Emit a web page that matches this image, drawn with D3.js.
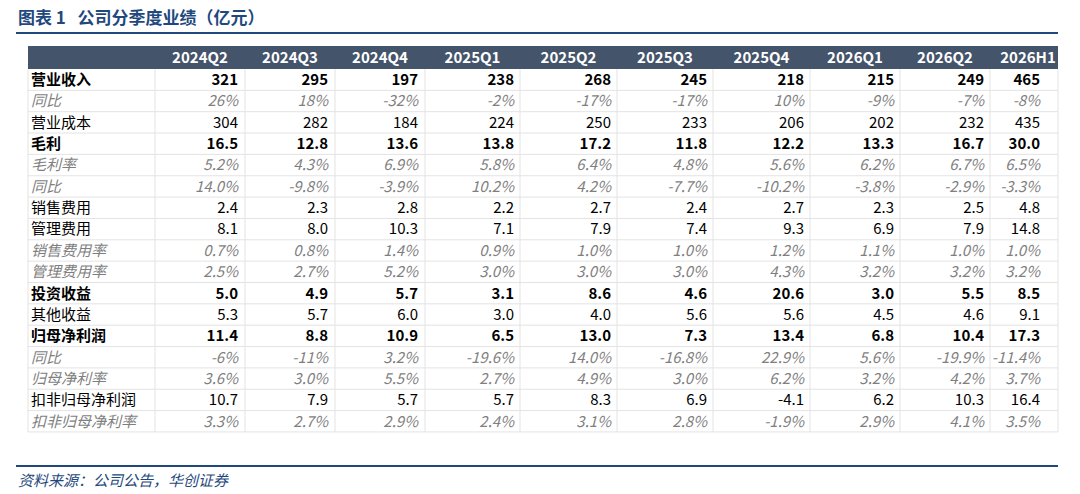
<!DOCTYPE html><html><head><meta charset="utf-8">
<script src="https://cdn.jsdelivr.net/npm/d3@7"></script>
<style>body{margin:0;background:#fff;font-family:"Noto Sans CJK SC","Noto Sans",sans-serif}</style></head><body>
<svg id="c" width="1080" height="494"></svg>
<script>
const periods=["2024Q2","2024Q3","2024Q4","2025Q1","2025Q2","2025Q3","2025Q4","2026Q1","2026Q2","2026H1"];
const rowLabels=["营业收入","同比","营业成本","毛利","毛利率","同比","销售费用","管理费用","销售费用率","管理费用率","投资收益","其他收益","归母净利润","同比","归母净利率","扣非归母净利润","扣非归母净利率"];
const rowStyles=["b","i","n","b","i","i","n","n","i","i","b","n","b","i","i","n","i"];
const revenue=["321","295","197","238","268","245","218","215","249","465"];
const revenueYoY=["26%","18%","-32%","-2%","-17%","-17%","10%","-9%","-7%","-8%"];
const cost=["304","282","184","224","250","233","206","202","232","435"];
const gross=["16.5","12.8","13.6","13.8","17.2","11.8","12.2","13.3","16.7","30.0"];
const grossMargin=["5.2%","4.3%","6.9%","5.8%","6.4%","4.8%","5.6%","6.2%","6.7%","6.5%"];
const grossYoY=["14.0%","-9.8%","-3.9%","10.2%","4.2%","-7.7%","-10.2%","-3.8%","-2.9%","-3.3%"];
const sellExp=["2.4","2.3","2.8","2.2","2.7","2.4","2.7","2.3","2.5","4.8"];
const mgmtExp=["8.1","8.0","10.3","7.1","7.9","7.4","9.3","6.9","7.9","14.8"];
const sellRate=["0.7%","0.8%","1.4%","0.9%","1.0%","1.0%","1.2%","1.1%","1.0%","1.0%"];
const mgmtRate=["2.5%","2.7%","5.2%","3.0%","3.0%","3.0%","4.3%","3.2%","3.2%","3.2%"];
const invIncome=["5.0","4.9","5.7","3.1","8.6","4.6","20.6","3.0","5.5","8.5"];
const otherIncome=["5.3","5.7","6.0","3.0","4.0","5.6","5.6","4.5","4.6","9.1"];
const netProfit=["11.4","8.8","10.9","6.5","13.0","7.3","13.4","6.8","10.4","17.3"];
const netYoY=["-6%","-11%","3.2%","-19.6%","14.0%","-16.8%","22.9%","5.6%","-19.9%","-11.4%"];
const netMargin=["3.6%","3.0%","5.5%","2.7%","4.9%","3.0%","6.2%","3.2%","4.2%","3.7%"];
const deductNet=["10.7","7.9","5.7","5.7","8.3","6.9","-4.1","6.2","10.3","16.4"];
const deductMargin=["3.3%","2.7%","2.9%","2.4%","3.1%","2.8%","-1.9%","2.9%","4.1%","3.5%"];
const values=[revenue,revenueYoY,cost,gross,grossMargin,grossYoY,sellExp,mgmtExp,sellRate,mgmtRate,invIncome,otherIncome,netProfit,netYoY,netMargin,deductNet,deductMargin];

const svg=d3.select("#c");
svg.append("text").attr("x",18).attr("y",24).attr("fill","#1F497D").attr("font-size",17).attr("font-weight","bold").style("white-space","pre").text("图表 1   公司分季度业绩（亿元）");
svg.append("line").attr("x1",16).attr("x2",1058).attr("y1",33).attr("y2",33).attr("stroke","#1F497D").attr("stroke-width",2);
const bounds=[155,245,335,425,520,617,713,810,900,990,1058];
const valRight=[238,328,418,514,611,707,804,894,984,1040];
const x0=28,hTop=46,hH=23,rH=21.35;
const y=d3.scaleBand().domain(d3.range(rowLabels.length)).range([hTop+hH,hTop+hH+rH*rowLabels.length]);
svg.append("rect").attr("x",x0).attr("y",hTop).attr("width",bounds[10]-x0).attr("height",hH).attr("fill","#44546A");
svg.selectAll(".h").data(periods).join("text").attr("x",(d,i)=>(bounds[i]+bounds[i+1])/2+(i===9?4:0)).attr("y",hTop+17).attr("text-anchor","middle").attr("fill","#fff").attr("font-size",15).attr("font-weight","bold").text(d=>d);
const grid=svg.append("g").attr("stroke","#E3E3E3").attr("stroke-width",1);
rowLabels.forEach((r,i)=>grid.append("line").attr("x1",x0).attr("x2",bounds[10]).attr("y1",y(i)+rH).attr("y2",y(i)+rH));
[x0,...bounds].forEach(b=>grid.append("line").attr("x1",b).attr("x2",b).attr("y1",hTop+hH).attr("y2",y(rowLabels.length-1)+rH));
const rows=svg.selectAll(".r").data(rowLabels).join("g").attr("transform",(d,i)=>`translate(0,${y(i)+16})`);
function sty(sel,i){const s=rowStyles[i];sel.attr("font-size",15).attr("fill",s==="i"?"#7F7F7F":"#000").attr("font-weight",s==="b"?"bold":"normal").attr("font-style",s==="i"?"italic":"normal");}
rows.each(function(lab,i){
  const g=d3.select(this);
  g.append("text").attr("x",x0+3).text(lab).call(sty,i);
  values[i].forEach((v,j)=>g.append("text").attr("x",valRight[j]).attr("text-anchor","end").text(v).call(sty,i));
});
svg.append("line").attr("x1",16).attr("x2",1058).attr("y1",466).attr("y2",466).attr("stroke","#1F497D").attr("stroke-width",2);
svg.append("text").attr("x",18).attr("y",486).attr("fill","#1F497D").attr("font-size",15).attr("font-style","italic").text("资料来源：公司公告，华创证券");
</script></body></html>
